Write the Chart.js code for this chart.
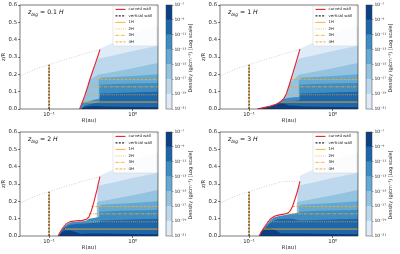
<!DOCTYPE html>
<html><head><meta charset="utf-8">
<script src="https://cdn.jsdelivr.net/npm/chart.js@4.4.1/dist/chart.umd.min.js"></script>
<style>
html,body{margin:0;padding:0;background:#fff}
body{width:400px;height:254px;position:relative;overflow:hidden}
canvas{position:absolute}
</style></head>
<body>
<script>
// ---------------- DATA ----------------
const panelZbig = ['0.1', '1', '2', '3'];
const xTickValues = [0.1, 1];
const xTickLabels = ['10⁻¹', '10⁰'];
const densityExp = [-21, -19, -17, -15, -13, -11, -9, -7];
const bandColors = ['#dfebf7', '#bdd7ec', '#94c3e0', '#64a9d4', '#3d8cc4', '#1c66ac', '#0a3f82'];

// curved walls (R [au], z/R)
const curve01H = [[0.232,0],[0.25,0.04],[0.268,0.08],[0.29,0.13],[0.307,0.17],[0.33,0.215],[0.353,0.256],[0.38,0.30],[0.405,0.343]];
const curve1H  = [[0.125,0],[0.15,0.008],[0.18,0.017],[0.21,0.028],[0.235,0.04],[0.26,0.06],[0.28,0.09],[0.307,0.15],[0.33,0.2],[0.36,0.26],[0.405,0.345]];
const curve2H  = [[0.128,0],[0.135,0.02],[0.145,0.045],[0.16,0.07],[0.18,0.083],[0.21,0.088],[0.25,0.09],[0.28,0.097],[0.3,0.11],[0.32,0.145],[0.345,0.2],[0.375,0.27],[0.405,0.343]];
const curve3H  = [[0.132,0],[0.14,0.025],[0.152,0.05],[0.165,0.075],[0.18,0.098],[0.2,0.114],[0.23,0.122],[0.26,0.126],[0.29,0.132],[0.31,0.145],[0.33,0.17],[0.355,0.215],[0.38,0.262],[0.405,0.315]];
const hugsWall = [true, true, false, false];

// grey dotted flaring surface (ends at wall top)
const flareLine = [[0.045,0.19],[0.07,0.232],[0.1,0.256],[0.15,0.283],[0.25,0.315]];
const verticalWall = [[0.1,0],[0.1,0.256]];

// density contour band tops (outer disk, shared)
const band1Top = [[0.405,0.347],[0.6,0.385],[0.9,0.425],[1.4,0.46],[2,0.48]];
const band2Top = [[0.39,0.29],[0.6,0.31],[1,0.335],[2,0.365]];
const band3Top = [[0.4,0.2],[0.42,0.2],[1,0.235],[2,0.265]];
const band4Top = [[0.39,0],[0.39,0.17],[0.42,0.18],[1,0.19],[2,0.2]];
const band5Top = [[0.4,0.14],[0.7,0.145],[2,0.15]];
const band6Top = [[0.41,0.09],[1,0.095],[2,0.1]];
const band7Top = [[0.45,0.015],[1,0.012],[2,0.01]];
// left edges of the light bands when they do not hug the wall
const band1Edge = [[0.37,0],[0.37,0.25]];
const band2Edge = [[0.38,0],[0.38,0.26]];
const band3Edge = [[0.37,0],[0.37,0.19]];

// inner (behind wall) parts of the dense bands, per panel
const inner5_01H = [[0.236,0],[0.25,0.035],[0.33,0.05],[0.4,0.06]];
const inner6_01H = [[0.245,0],[0.27,0.02],[0.33,0.03],[0.4,0.04]];
const inner7_01H = [[0.24,0],[0.26,0.012],[0.33,0.018],[0.42,0.016]];
const inner5_1H = [[0.126,0],[0.15,0.008],[0.18,0.017],[0.21,0.028],[0.235,0.04],[0.26,0.058],[0.3,0.065],[0.4,0.07]];
const inner6_1H = [[0.127,0],[0.15,0.0075],[0.18,0.016],[0.21,0.027],[0.235,0.038],[0.26,0.045],[0.33,0.045],[0.4,0.05]];
const inner7_1H = [[0.129,0],[0.15,0.006],[0.18,0.014],[0.21,0.024],[0.235,0.032],[0.26,0.03],[0.3,0.02],[0.42,0.016]];
const inner5_2H = [[0.129,0],[0.136,0.02],[0.146,0.043],[0.162,0.066],[0.18,0.078],[0.21,0.083],[0.25,0.085],[0.28,0.09],[0.3,0.1],[0.4,0.11]];
const inner6_2H = [[0.13,0],[0.14,0.025],[0.155,0.05],[0.18,0.065],[0.22,0.07],[0.28,0.072],[0.4,0.08]];
const inner7_2H = [[0.131,0],[0.14,0.02],[0.155,0.032],[0.18,0.032],[0.21,0.022],[0.24,0.012],[0.3,0.014],[0.42,0.015]];
const inner5_3H = [[0.133,0],[0.141,0.024],[0.153,0.048],[0.166,0.072],[0.182,0.094],[0.2,0.108],[0.23,0.116],[0.26,0.12],[0.3,0.125],[0.4,0.135]];
const inner6_3H = [[0.134,0],[0.143,0.024],[0.156,0.045],[0.17,0.065],[0.19,0.085],[0.22,0.097],[0.27,0.1],[0.33,0.1],[0.4,0.09]];
const inner7_3H = [[0.134,0],[0.14,0.025],[0.155,0.043],[0.18,0.045],[0.21,0.032],[0.24,0.015],[0.3,0.014],[0.42,0.015]];

// scale-height lines 1H..4H (z/R) and their starting radius per panel
const scaleHeightZ = [0.04, 0.082, 0.128, 0.17];
const lineStart01H = [0.25, 0.29, 0.33, 0.37];
const lineStart1H  = [0.23, 0.28, 0.30, 0.32];
const lineStart2H  = [0.155, 0.19, 0.30, 0.32];
const lineStart3H  = [0.15, 0.165, 0.28, 0.33];
const legendOrder = ['curved wall', 'vertical wall', '1H', '2H', '3H', '4H'];

// ---------------- BUILD ----------------
Chart.defaults.font.family = 'DejaVu Sans';
Chart.defaults.color = '#222';
const ORANGE = '#f7a823';
const SUP = {'-':'⁻','0':'⁰','1':'¹','2':'²','3':'³','4':'⁴','5':'⁵','6':'⁶','7':'⁷','8':'⁸','9':'⁹'};
const sup = v => String(v).split('').map(c => SUP[c] || c).join('');
const pts = a => a.map(p => ({x: p[0], y: p[1]}));
const below = (c, h) => c.filter(p => p[1] < h);

const panels = [
  {zb: panelZbig[0], curve: curve01H, i5: inner5_01H, i6: inner6_01H, i7: inner7_01H, starts: lineStart01H, hug: hugsWall[0], px: 0, py: 0},
  {zb: panelZbig[1], curve: curve1H, i5: inner5_1H, i6: inner6_1H, i7: inner7_1H, starts: lineStart1H, hug: hugsWall[1], px: 200, py: 0},
  {zb: panelZbig[2], curve: curve2H, i5: inner5_2H, i6: inner6_2H, i7: inner7_2H, starts: lineStart2H, hug: hugsWall[2], px: 0, py: 127},
  {zb: panelZbig[3], curve: curve3H, i5: inner5_3H, i6: inner6_3H, i7: inner7_3H, starts: lineStart3H, hug: hugsWall[3], px: 200, py: 127},
];

const framePlugin = {
  id: 'frame',
  afterDraw(chart) {
    const {ctx, chartArea: a} = chart;
    ctx.save();
    ctx.strokeStyle = '#222'; ctx.lineWidth = 0.6;
    ctx.strokeRect(a.left, a.top, a.right - a.left, a.bottom - a.top);
    // title
    const zb = chart.options.plugins.frame.zb;
    let x = 28, y = 14;
    ctx.fillStyle = '#111'; ctx.textBaseline = 'alphabetic';
    ctx.font = 'italic 6.2px "DejaVu Sans"'; ctx.fillText('z', x, y); x += ctx.measureText('z').width;
    ctx.font = 'italic 4.4px "DejaVu Sans"'; ctx.fillText('big', x, y + 1.6); x += ctx.measureText('big').width;
    ctx.font = '6.2px "DejaVu Sans"'; const mid = ' = ' + zb + ' '; ctx.fillText(mid, x, y); x += ctx.measureText(mid).width;
    ctx.font = 'italic 6.2px "DejaVu Sans"'; ctx.fillText('H', x, y);
    // legend
    const bx = 113, by = 6, bw = 44, bh = 40;
    ctx.fillStyle = 'rgba(255,255,255,0.85)'; ctx.strokeStyle = '#d0d0d0'; ctx.lineWidth = 0.5;
    ctx.beginPath(); ctx.roundRect(bx, by, bw, bh, 1.5); ctx.fill(); ctx.stroke();
    legendOrder.forEach((lab, i) => {
      const ds = chart.data.datasets.find(d => d.legendLabel === lab);
      const yc = by + 3.4 + i * 6.5;
      ctx.strokeStyle = ds.borderColor; ctx.lineWidth = ds.borderWidth;
      ctx.setLineDash(ds.borderDash || []);
      ctx.beginPath(); ctx.moveTo(bx + 2.5, yc); ctx.lineTo(bx + 12.5, yc); ctx.stroke();
      ctx.setLineDash([]);
      ctx.fillStyle = '#222'; ctx.font = '3.9px "DejaVu Sans"'; ctx.textBaseline = 'middle';
      ctx.fillText(lab, bx + 15.5, yc);
    });
    ctx.restore();
  }
};

const cbPlugin = {
  id: 'cbframe',
  afterDraw(chart) {
    const {ctx, chartArea: a} = chart;
    ctx.save();
    ctx.strokeStyle = '#444'; ctx.lineWidth = 0.5;
    ctx.strokeRect(a.left, a.top, a.right - a.left, a.bottom - a.top);
    ctx.translate(31, (a.top + a.bottom) / 2 + 1);
    ctx.rotate(-Math.PI / 2);
    ctx.fillStyle = '#222'; ctx.font = '4.9px "DejaVu Sans"';
    ctx.textAlign = 'center'; ctx.textBaseline = 'middle';
    ctx.fillText('Density (g/cm⁻³) [Log scale]', 0, 0);
    ctx.restore();
  }
};

panels.forEach((p, k) => {
  const cv = document.createElement('canvas');
  cv.width = 160; cv.height = 127;
  cv.style.left = p.px + 'px'; cv.style.top = p.py + 'px';
  document.body.appendChild(cv);
  const cb = document.createElement('canvas');
  cb.width = 40; cb.height = 127;
  cb.style.left = (p.px + 160) + 'px'; cb.style.top = p.py + 'px';
  document.body.appendChild(cb);

  const top = p.curve[p.curve.length - 1];
  const bandPolys = p.hug ? [
    p.curve.concat(band1Top),
    below(p.curve, band2Top[0][1]).concat(band2Top),
    below(p.curve, band3Top[0][1]).concat(band3Top),
    band4Top,
    p.i5.concat(band5Top), p.i6.concat(band6Top), p.i7.concat(band7Top)
  ] : [
    band1Edge.concat([top], band1Top),
    band2Edge.concat(band2Top),
    band3Edge.concat(band3Top),
    band4Top,
    p.i5.concat(band5Top), p.i6.concat(band6Top), p.i7.concat(band7Top)
  ];
  const ds = [];
  bandPolys.forEach((poly, i) => ds.push({
    data: pts(poly), showLine: true, pointRadius: 0, borderWidth: 0,
    borderColor: bandColors[i], backgroundColor: bandColors[i], fill: 'origin', order: 200 - i
  }));
  ds.push({data: pts(flareLine.concat([top])), showLine: true, pointRadius: 0, fill: false,
    borderColor: '#c4c4c4', borderWidth: 0.8, borderDash: [1, 1.6], order: 20});
  ds.push({data: pts(verticalWall), showLine: true, pointRadius: 0, fill: false,
    borderColor: ORANGE, borderWidth: 1.1, order: 12});
  const dashes = [[], [0.8, 1.1], [3, 1, 0.8, 1], [2.6, 1.4]];
  scaleHeightZ.forEach((z, i) => ds.push({
    legendLabel: (i + 1) + 'H',
    data: pts([[p.starts[i], z], [2, z]]), showLine: true, pointRadius: 0, fill: false,
    borderColor: ORANGE, borderWidth: 0.9, borderDash: dashes[i], order: 10 - i
  }));
  ds.push({legendLabel: 'vertical wall', data: pts(verticalWall), showLine: true, pointRadius: 0, fill: false,
    borderColor: '#2a2a3a', borderWidth: 1.1, borderDash: [2, 1.3], order: 3});
  ds.push({legendLabel: 'curved wall', data: pts(p.curve), showLine: true, pointRadius: 0, fill: false,
    borderColor: '#e8202a', borderWidth: 1.1, order: 1});

  new Chart(cv, {
    type: 'scatter',
    data: {datasets: ds},
    options: {
      responsive: false, animation: false, devicePixelRatio: 1,
      layout: {padding: {top: 5, right: 2, left: 0, bottom: 0}},
      plugins: {legend: {display: false}, tooltip: {enabled: false}, frame: {zb: p.zb}},
      elements: {line: {tension: 0}},
      scales: {
        x: {
          type: 'logarithmic', min: 0.045, max: 2,
          afterBuildTicks: s => { s.ticks = xTickValues.map(v => ({value: v})); },
          afterFit: s => { s.height = 18; },
          ticks: {callback: (v, i) => xTickLabels[i], font: {size: 5.3}, padding: 0.5, maxRotation: 0, autoSkip: false},
          grid: {drawOnChartArea: false, drawTicks: true, tickLength: 2, color: '#222', lineWidth: 0.6},
          border: {display: false},
          title: {display: true, text: 'R(au)', font: {size: 5.3}, padding: {top: 0, bottom: 3}}
        },
        y: {
          min: 0, max: 0.6,
          afterFit: s => { s.width = 20; },
          ticks: {stepSize: 0.1, callback: v => Number(v).toFixed(1), font: {size: 5.3}, padding: 1},
          grid: {drawOnChartArea: false, drawTicks: true, tickLength: 2, color: '#222', lineWidth: 0.6},
          border: {display: false},
          title: {display: true, text: 'z/R', font: {size: 5.3}, padding: {top: 0, bottom: 0}}
        }
      }
    },
    plugins: [framePlugin]
  });

  new Chart(cb, {
    type: 'bar',
    data: {labels: ['d'], datasets: bandColors.map((c, i) => ({
      data: [[densityExp[i], densityExp[i + 1]]], backgroundColor: c, borderWidth: 0,
      grouped: false, barPercentage: 1, categoryPercentage: 1
    }))},
    options: {
      responsive: false, animation: false, devicePixelRatio: 1,
      layout: {padding: {left: 6, top: 5, bottom: 18, right: 0}},
      plugins: {legend: {display: false}, tooltip: {enabled: false}},
      scales: {
        x: {display: false},
        y: {
          position: 'right', min: -21, max: -7,
          afterFit: s => { s.width = 28; },
          ticks: {stepSize: 2, callback: v => '10' + sup(v), font: {size: 4.5}, padding: 1, autoSkip: false},
          grid: {drawOnChartArea: false, drawTicks: true, tickLength: 1.5, color: '#444', lineWidth: 0.5},
          border: {display: false}
        }
      }
    },
    plugins: [cbPlugin]
  });
});
</script>
</body></html>
